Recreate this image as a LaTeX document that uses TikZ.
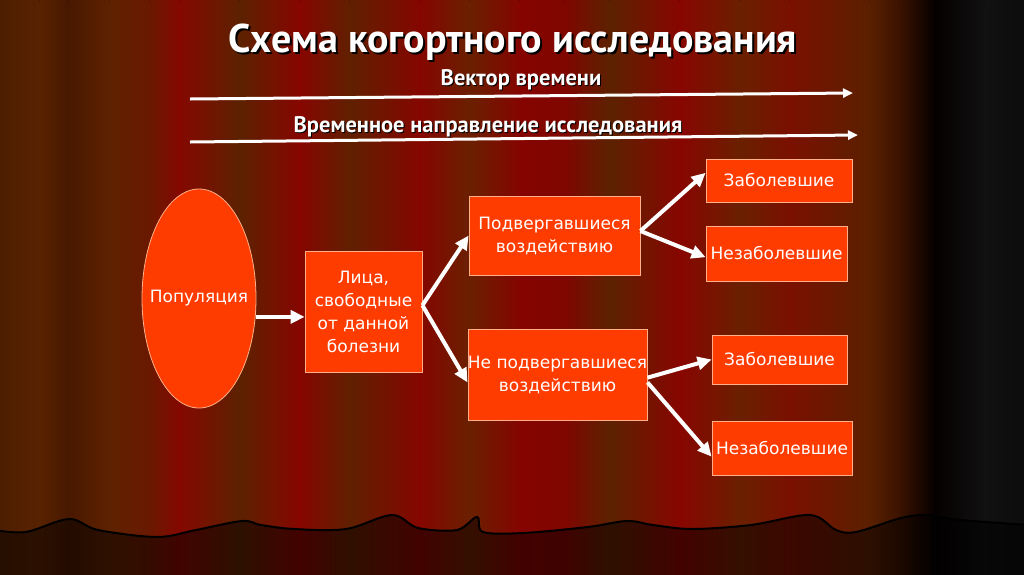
\documentclass[tikz,border=0pt]{standalone}
\usepackage{fontspec}
\usepackage{tikz}
\usetikzlibrary{arrows.meta}
\usetikzlibrary{shapes.geometric}
\newfontfamily\boxfont{DejaVu Sans}
\newfontfamily\headfont{PT Sans}
\definecolor{boxfill}{HTML}{FF3C00}
\definecolor{boxline}{HTML}{FFB08A}
% curtain stripes, left to right
\definecolor{curt0}{HTML}{4E1E02}
\definecolor{curt1}{HTML}{582200}
\definecolor{curt2}{HTML}{481800}
\definecolor{curt3}{HTML}{5E2200}
\definecolor{curt4}{HTML}{6A1800}
\definecolor{curt5}{HTML}{850800}
\definecolor{curt6}{HTML}{5C2200}
\definecolor{curt7}{HTML}{870600}
\definecolor{curt8}{HTML}{602000}
\definecolor{curt9}{HTML}{850600}
\definecolor{curt10}{HTML}{6A2000}
\definecolor{curt11}{HTML}{850400}
\definecolor{curt12}{HTML}{800600}
\definecolor{curt13}{HTML}{5C2200}
\definecolor{curt14}{HTML}{880600}
\definecolor{curt15}{HTML}{6A2000}
\definecolor{curt16}{HTML}{7A1000}
\definecolor{curt17}{HTML}{5A2000}
\definecolor{curt18}{HTML}{3A1200}
\definecolor{curt19}{HTML}{050000}
\definecolor{curt20}{HTML}{111111}
\definecolor{curt21}{HTML}{0C0C0C}

\begin{document}
\begin{tikzpicture}[x=1pt,y=-1pt,
    box/.style={draw=boxline, fill=boxfill, line width=0.8pt, text=white, align=center, inner sep=0pt, font=\boxfont\fontsize{17}{23}\selectfont},
    arr/.style={draw=white, line width=4pt, -{Triangle[length=14pt,width=13pt]}},
    timearr/.style={draw=white, line width=3pt, -{Triangle[length=10pt,width=9pt]}},
    ttl/.style={text=white, font=\headfont\bfseries\fontsize{40}{40}\selectfont},
    lbl/.style={text=white, font=\headfont\bfseries\fontsize{22.5}{22.5}\selectfont}]
    \useasboundingbox (0,0) rectangle (1024,574);
    % фон: занавес
    \foreach \xa/\xb [count=\i from 0] in {0/40,40/68,68/110,110/150,150/180,180/240,240/300,300/350,350/420,420/470,470/520,520/565,565/610,610/680,680/740,740/790,790/870,870/900,900/935,935/985,985/1024}
    {
        \pgfmathtruncatemacro\j{\i+1}
        \fill[left color=curt\i, right color=curt\j] (\xa-0.6,0) rectangle (\xb+0.6,574);
    }
    % сцена
    \path[fill=black, fill opacity=0.5, draw=black, line width=2pt] plot[smooth, tension=0.55] coordinates {(-5,530) (26,532) (69,519) (98,530) (157,537) (196,530) (242,521) (261,525) (294,529) (346,529) (392,515) (418,528) (457,530) (477,517) (483,532) (523,533) (588,527) (627,521) (653,525) (692,529) (751,525) (810,515) (836,530) (856,532) (901,518) (927,515) (960,520) (1030,525)} -- (1030,600) -- (-5,600) -- cycle;

    % заголовок
    \node[ttl, text=black] (ttlsh) at (515,44) {Схема когортного исследования};
    \node[ttl] (ttl) at (513,42) {Схема когортного исследования};

    % оси времени
    \coordinate (v1a) at (190,99);
    \coordinate (v1b) at (853,93);
    \coordinate (v2a) at (190,142);
    \coordinate (v2b) at (858,135);
    \draw[timearr] (v1a) -- (v1b);
    \draw[timearr] (v2a) -- (v2b);
    \node[lbl, text=black] (vecsh) at (522,81) {Вектор времени};
    \node[lbl] (vec) at (521,80) {Вектор времени};
    \node[lbl, text=black] (dirsh) at (489,128) {Временное направление исследования};
    \node[lbl] (dir) at (488,127) {Временное направление исследования};

    % узлы
    \node[box, ellipse, minimum width=114pt, minimum height=219pt] (pop) at (199,298.5) {\makebox[0pt]{Популяция}};
    \node[box, minimum width=117pt, minimum height=121pt] (free) at (363.5,311.5) {Лица,\\свободные\\от данной\\болезни};
    \node[box, minimum width=171pt, minimum height=79pt] (exp) at (554.5,235.5) {Подвергавшиеся\\воздействию};
    \node[box, minimum width=177pt, minimum height=91pt] (nonexp) at (557.5,374.5) {Не подвергавшиеся\\воздействию};
    \node[box, minimum width=146pt, minimum height=43pt] (sick1) at (779,180.5) {Заболевшие};
    \node[box, minimum width=141pt, minimum height=55pt] (well1) at (776.5,253.5) {Незаболевшие};
    \node[box, minimum width=135pt, minimum height=49pt] (sick2) at (779.5,359.5) {Заболевшие};
    \node[box, minimum width=140pt, minimum height=54pt] (well2) at (782,448) {Незаболевшие};

    % стрелки
    \draw[arr] (pop.-18) -- (pop.-18 -| free.west);
    \draw[arr] (free.6) -- (exp.west);
    \draw[arr] (free.6) -- (nonexp.185);
    \draw[arr] (exp.3) -- (sick1.174);
    \draw[arr] (exp.3) -- (well1.183);
    \draw[arr] (nonexp.-2) -- (sick2.west);
    \draw[arr] (nonexp.-5) -- (well2.187);
\end{tikzpicture}
\end{document}
